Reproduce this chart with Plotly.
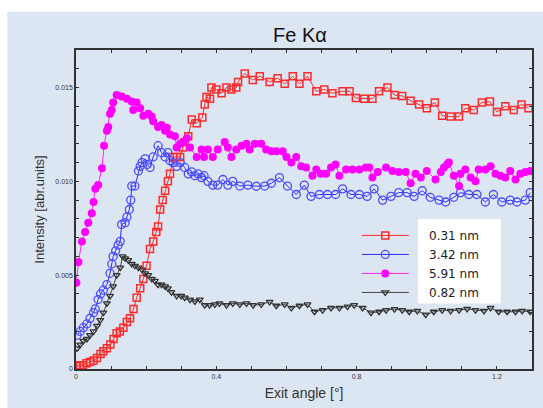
import plotly.graph_objects as go

# ---- data ----
series_names = ["0.31 nm", "3.42 nm", "5.91 nm", "0.82 nm"]

red_x = [0.003,0.012,0.02,0.03,0.04,0.05,0.06,0.07,0.078,0.088,0.098,0.107,0.116,0.125,0.135,0.145,0.154,0.164,0.173,0.183,0.192,0.201,0.211,0.22,0.229,0.234,0.24,0.247,0.254,0.262,0.268,0.277,0.287,0.297,0.305,0.31,0.32,0.33,0.344,0.36,0.367,0.372,0.382,0.386,0.40,0.415,0.429,0.443,0.457,0.462,0.481,0.504,0.524,0.552,0.575,0.595,0.618,0.637,0.66,0.685,0.708,0.731,0.76,0.78,0.798,0.822,0.845,0.864,0.888,0.908,0.93,0.954,0.978,1.0,1.023,1.044,1.068,1.092,1.11,1.134,1.157,1.18,1.2,1.224,1.248,1.27,1.29]
red_y = [0.00016,0.0002,0.0002,0.0003,0.00037,0.00045,0.00058,0.0008,0.00095,0.0011,0.0013,0.0016,0.0019,0.0020,0.0022,0.0025,0.0027,0.0032,0.0038,0.0043,0.0048,0.0055,0.0064,0.0068,0.0073,0.0076,0.0085,0.0090,0.0095,0.0100,0.0104,0.0113,0.0113,0.0113,0.0118,0.0121,0.0124,0.0133,0.0131,0.0134,0.0141,0.0145,0.0144,0.0150,0.0149,0.0147,0.0150,0.0149,0.0150,0.0153,0.01575,0.0154,0.0156,0.0153,0.0155,0.0152,0.0156,0.0152,0.0156,0.0148,0.0149,0.0147,0.0148,0.0148,0.01444,0.0144,0.0144,0.0148,0.0150,0.0146,0.01455,0.0143,0.0141,0.0139,0.0142,0.0135,0.01345,0.01345,0.0139,0.0138,0.0142,0.01425,0.0137,0.0140,0.0138,0.0141,0.0139]

blue_x = [0.003,0.012,0.021,0.031,0.04,0.05,0.055,0.063,0.07,0.078,0.088,0.097,0.102,0.106,0.113,0.12,0.126,0.13,0.14,0.145,0.152,0.156,0.159,0.168,0.178,0.183,0.188,0.197,0.203,0.211,0.22,0.234,0.244,0.254,0.262,0.268,0.277,0.287,0.297,0.31,0.32,0.33,0.339,0.348,0.358,0.365,0.376,0.39,0.404,0.419,0.433,0.447,0.467,0.49,0.514,0.538,0.557,0.58,0.603,0.628,0.651,0.67,0.694,0.717,0.74,0.76,0.784,0.808,0.83,0.85,0.874,0.898,0.92,0.944,0.964,0.987,1.01,1.035,1.054,1.077,1.096,1.12,1.143,1.167,1.19,1.214,1.238,1.257,1.281,1.295]
blue_y = [0.0018,0.0020,0.0022,0.0024,0.0027,0.0030,0.0032,0.0037,0.0040,0.0042,0.0045,0.0051,0.0056,0.0060,0.0063,0.0066,0.0068,0.0077,0.0078,0.0081,0.0085,0.0090,0.00975,0.00975,0.01055,0.0108,0.0110,0.0112,0.0109,0.01074,0.0113,0.0119,0.01153,0.0113,0.01153,0.0111,0.0110,0.0108,0.0110,0.01074,0.0104,0.0105,0.0103,0.0104,0.0102,0.0103,0.0100,0.0098,0.0098,0.0101,0.0098,0.0100,0.00975,0.0098,0.00974,0.00975,0.0099,0.0102,0.00975,0.0093,0.0098,0.0092,0.0093,0.0093,0.0093,0.0096,0.0093,0.0093,0.0092,0.0096,0.0090,0.0092,0.0094,0.0094,0.0092,0.0095,0.00915,0.0090,0.0089,0.00915,0.0094,0.0093,0.0093,0.0089,0.0093,0.0089,0.0090,0.0089,0.0090,0.0094]

mag_x = [0.001,0.007,0.017,0.026,0.035,0.045,0.05,0.055,0.063,0.074,0.08,0.088,0.092,0.097,0.102,0.106,0.116,0.13,0.145,0.159,0.163,0.173,0.183,0.192,0.206,0.216,0.22,0.234,0.244,0.254,0.259,0.268,0.282,0.287,0.297,0.305,0.316,0.325,0.344,0.358,0.365,0.376,0.39,0.404,0.424,0.433,0.443,0.457,0.472,0.486,0.495,0.51,0.528,0.542,0.557,0.571,0.589,0.6,0.614,0.628,0.642,0.656,0.674,0.685,0.698,0.713,0.727,0.74,0.751,0.77,0.788,0.808,0.826,0.836,0.845,0.86,0.884,0.902,0.92,0.94,0.954,0.968,0.983,1.0,1.025,1.04,1.049,1.058,1.063,1.077,1.092,1.096,1.11,1.125,1.139,1.148,1.167,1.182,1.196,1.21,1.224,1.238,1.253,1.267,1.281,1.295]
mag_y = [0.0046,0.0057,0.0068,0.0073,0.0078,0.0083,0.0089,0.0096,0.0098,0.0107,0.0119,0.0127,0.0129,0.0136,0.0138,0.0142,0.0146,0.01452,0.0144,0.01425,0.0138,0.0142,0.0139,0.0135,0.0136,0.01345,0.0132,0.0129,0.0130,0.0127,0.01285,0.0125,0.0124,0.0118,0.0120,0.0121,0.0123,0.0118,0.0113,0.0117,0.0113,0.0117,0.0113,0.0117,0.0121,0.0118,0.0113,0.0117,0.0119,0.0120,0.0117,0.0120,0.0120,0.0117,0.0116,0.0116,0.0116,0.0113,0.0110,0.0113,0.0108,0.01074,0.0103,0.01063,0.0104,0.0104,0.01074,0.0109,0.0103,0.01063,0.01063,0.01063,0.01074,0.01074,0.0102,0.0105,0.01074,0.01055,0.0105,0.0105,0.0099,0.0104,0.0102,0.01055,0.0101,0.0105,0.01074,0.0109,0.0110,0.0103,0.00975,0.0104,0.01063,0.0102,0.0100,0.01063,0.01063,0.0108,0.0104,0.0103,0.0102,0.01055,0.0101,0.0104,0.0105,0.01055]

blk_x = [0.003,0.012,0.021,0.031,0.04,0.05,0.06,0.069,0.078,0.088,0.097,0.106,0.116,0.126,0.133,0.14,0.149,0.159,0.168,0.178,0.188,0.197,0.206,0.216,0.225,0.234,0.244,0.254,0.262,0.272,0.287,0.30,0.31,0.325,0.339,0.353,0.367,0.381,0.396,0.409,0.429,0.447,0.467,0.486,0.505,0.528,0.552,0.571,0.595,0.614,0.637,0.66,0.68,0.703,0.727,0.751,0.774,0.793,0.817,0.841,0.864,0.884,0.908,0.93,0.95,0.973,0.997,1.02,1.044,1.068,1.092,1.115,1.139,1.163,1.182,1.205,1.229,1.253,1.272,1.295]
blk_y = [0.0011,0.0013,0.0015,0.0016,0.0018,0.0020,0.0023,0.0026,0.0030,0.0035,0.0039,0.0044,0.0050,0.0054,0.0060,0.0059,0.0058,0.0056,0.0055,0.0054,0.0053,0.0051,0.0050,0.0048,0.0047,0.0045,0.0045,0.0044,0.0043,0.0041,0.0039,0.0039,0.0038,0.0037,0.0036,0.0037,0.0034,0.0034,0.00344,0.0035,0.0034,0.0035,0.00344,0.0035,0.0034,0.00344,0.00358,0.00337,0.00344,0.00326,0.00337,0.00344,0.00305,0.00314,0.00326,0.00326,0.00332,0.0034,0.00326,0.0030,0.00305,0.00314,0.00319,0.00314,0.00305,0.0031,0.0029,0.00305,0.00314,0.0031,0.00314,0.0032,0.00314,0.0031,0.00326,0.00305,0.00305,0.00305,0.0031,0.00305]

x_tick_vals = [0, 0.4, 0.8, 1.2]
x_tick_text = ["0", "0.4", "0.8", "1.2"]
y_tick_vals = [0, 0.005, 0.010, 0.015]
y_tick_text = ["0", "0.005", "0.010", "0.015"]

BG = "#dce6f2"
PAD = "\u00a0" * 4  # pushes legend labels into the white label box

fig = go.Figure()
fig.add_trace(go.Scatter(x=red_x, y=red_y, name=PAD + series_names[0], mode="lines+markers",
    line=dict(color="#ff2a2a", width=1),
    marker=dict(symbol="square-open", size=7, color="#ff2a2a", line=dict(width=1.5))))
fig.add_trace(go.Scatter(x=blue_x, y=blue_y, name=PAD + series_names[1], mode="lines+markers",
    line=dict(color="#2a2aff", width=1),
    marker=dict(symbol="circle-open", size=8, color="#4a4aff", line=dict(width=1.3))))
fig.add_trace(go.Scatter(x=mag_x, y=mag_y, name=PAD + series_names[2], mode="lines+markers",
    line=dict(color="#ff22ff", width=1),
    marker=dict(symbol="circle", size=8, color="#ff00ff")))
fig.add_trace(go.Scatter(x=blk_x, y=blk_y, name=PAD + series_names[3], mode="lines+markers",
    line=dict(color="#444444", width=1),
    marker=dict(symbol="triangle-down-open", size=6, color="#333333", line=dict(width=1.3))))

# white box behind legend labels
fig.add_shape(type="rect", xref="x", yref="y", x0=0.975, x1=1.211, y0=0.00349, y1=0.00799,
              fillcolor="white", line=dict(width=0), layer="above")
# white strips at page top/left
fig.add_shape(type="rect", xref="paper", yref="paper", x0=-0.2, x1=1.1, y0=1.12, y1=1.3,
              fillcolor="white", line=dict(width=0), layer="below")
fig.add_shape(type="rect", xref="paper", yref="paper", x0=-0.2, x1=-0.1508, y0=-0.2, y1=1.3,
              fillcolor="white", line=dict(width=0), layer="below")

axis_common = dict(showline=True, linecolor="#333333", linewidth=1.5, mirror="allticks",
                   ticks="inside", ticklen=3, tickcolor="#333333", showgrid=False, zeroline=False,
                   tickfont=dict(size=7, color="#333333", family="Liberation Sans"))

fig.update_xaxes(range=[0, 1.3], tickvals=x_tick_vals, ticktext=x_tick_text,
                 minor=dict(dtick=0.1, ticks="inside", ticklen=3, tickcolor="#333333", showgrid=False),
                 title=dict(text="Exit angle [°]", font=dict(size=14, color="#333333", family="Liberation Sans"), standoff=9),
                 **axis_common)
fig.update_yaxes(range=[0, 0.017], tickvals=y_tick_vals, ticktext=y_tick_text,
                 minor=dict(dtick=0.001, ticks="inside", ticklen=3, tickcolor="#333333", showgrid=False),
                 title=dict(text="Intensity [abr.units]", font=dict(size=13, color="#333333", family="Liberation Sans"), standoff=8),
                 **axis_common)

fig.update_layout(
    width=543, height=408,
    margin=dict(l=76, r=9, t=50, b=37),
    paper_bgcolor=BG, plot_bgcolor=BG,
    title=dict(text="Fe Kα", x=300/543, xref="container", xanchor="center",
               y=1-35/408, yref="container", yanchor="middle",
               font=dict(size=20, color="#111111", family="Liberation Sans")),
    legend=dict(x=(358-76)/458, y=1-(222-50)/321, xanchor="left", yanchor="top",
                bgcolor="rgba(0,0,0,0)", itemwidth=47, tracegroupgap=0,
                font=dict(size=12, color="#222222", family="DejaVu Sans")),
    showlegend=True,
)

fig.write_html("out.html")
